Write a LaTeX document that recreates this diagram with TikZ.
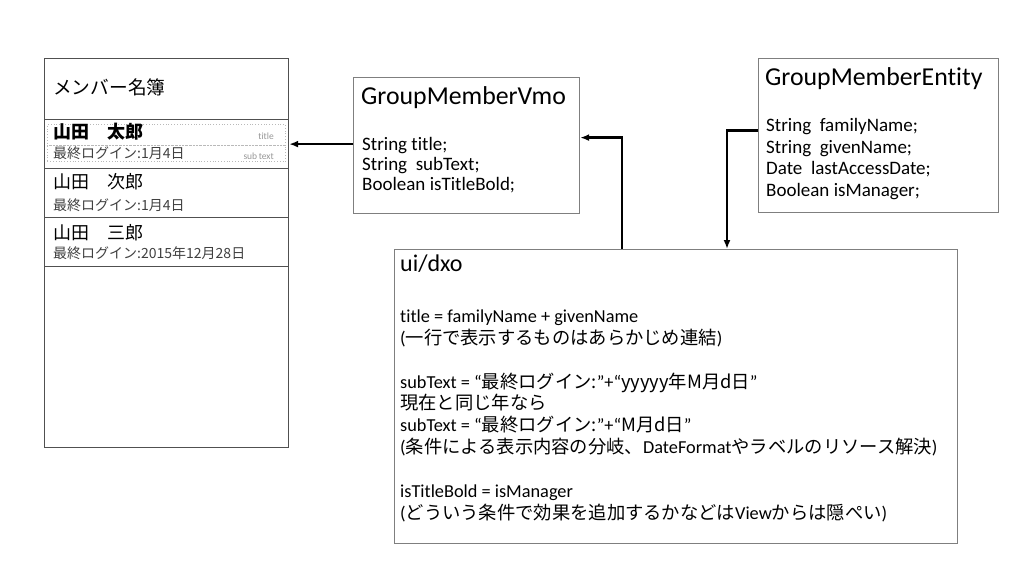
\documentclass[tikz,border=0pt]{standalone}
\usepackage{fontspec}
\setmainfont[Ligatures=NoCommon]{Carlito}
\newfontfamily\jp{Noto Sans CJK JP}
\usetikzlibrary{arrows.meta}
\definecolor{boxline}{RGB}{127,127,127}
\definecolor{listline}{RGB}{80,80,80}
\definecolor{subgray}{RGB}{64,64,64}
\definecolor{labelgray}{RGB}{150,150,150}
\definecolor{dotgray}{RGB}{185,185,185}
\begin{document}
\begin{tikzpicture}[x=1pt,y=-1pt,
  frame/.style={draw=boxline,line width=1.2pt,anchor=north west,inner sep=0pt},
  txt/.style={anchor=west,inner sep=0pt,text height=0.85em,text depth=0.1em},
  link/.style={line width=2.6pt,-{Latex[length=9pt,width=7pt]}}]
  \useasboundingbox (0,0) rectangle (1024,576);
  % member list screen
  \node[frame,draw=listline,minimum width=244pt,minimum height=389pt] (list) at (44,58) {};
  \node[frame,draw=listline,minimum width=244pt,minimum height=49pt] (row1) at (44,119) {};
  \node[frame,draw=listline,minimum width=244pt,minimum height=49pt] (row2) at (44,168) {};
  \node[frame,draw=listline,minimum width=244pt,minimum height=49pt] (row3) at (44,217) {};
  \node[draw=dotgray,dotted,line width=0.8pt,anchor=north west,inner sep=0pt,minimum width=238pt,minimum height=21pt] (titlebox) at (47,124) {};
  \node[draw=dotgray,dotted,line width=0.8pt,anchor=north west,inner sep=0pt,minimum width=238pt,minimum height=16pt] (subbox) at (47,145) {};
  \node[txt,font=\jp\fontsize{18.7}{22}\selectfont] (listhead) at (53,91) {メンバー名簿};
  \node[txt,font=\jp\bfseries\fontsize{18}{21}\selectfont] (name1) at (53,135) {山田　太郎};
  \node[txt,font=\jp\fontsize{18}{21}\selectfont] (name2) at (53,185) {山田　次郎};
  \node[txt,font=\jp\fontsize{18}{21}\selectfont] (name3) at (53,236) {山田　三郎};
  \node[txt,font=\jp\fontsize{14}{16}\selectfont,text=subgray] (sub1) at (53,155) {最終ログイン:1月4日};
  \node[txt,font=\jp\fontsize{14}{16}\selectfont,text=subgray] (sub2) at (53,207) {最終ログイン:1月4日};
  \node[txt,font=\jp\fontsize{14}{16}\selectfont,text=subgray] (sub3) at (53,255) {最終ログイン:2015年12月28日};
  \node[txt,anchor=east,font=\fontsize{9.5}{11}\selectfont,text=labelgray] (titlelabel) at (274,136) {title};
  \node[txt,anchor=east,font=\fontsize{9.5}{11}\selectfont,text=labelgray] (sublabel) at (274,156) {sub\,text};
  % view model
  \node[frame,minimum width=226pt,minimum height=136pt] (vmo) at (353,77) {};
  \node[txt,font=\fontsize{25.8}{30}\selectfont] (vmoname) at (361,101) {GroupMemberVmo};
  \foreach \y/\t [count=\i] in {147/{String title;},167/{String~ subText;},187/{Boolean isTitleBold;}}
    \node[txt,font=\fontsize{19}{21}\selectfont] (vmof\i) at (362,\y) {\t};
  % entity
  \node[frame,minimum width=240pt,minimum height=154pt] (entity) at (758,58) {};
  \node[txt,font=\fontsize{25.8}{30}\selectfont] (entityname) at (765,82) {GroupMemberEntity};
  \foreach \y/\t [count=\i] in {128/{String~ familyName;},150/{String~ givenName;},171/{Date~ lastAccessDate;},193/{Boolean isManager;}}
    \node[txt,font=\fontsize{19}{21}\selectfont] (entityf\i) at (766,\y) {\t};
  % dxo
  \node[frame,minimum width=563pt,minimum height=294pt] (dxo) at (394,249) {};
  \node[txt,font=\fontsize{24}{28}\selectfont] (dxoname) at (400,268) {ui/dxo};
  \foreach \y/\t [count=\i] in {
      319/{title = familyName + givenName},
      341/{({\jp 一行で表示するものはあらかじめ連結})},
      385/{subText = “{\jp 最終ログイン:}”+“{\jp yyyyy年M月d日}”},
      406/{{\jp 現在と同じ年なら}},
      428/{subText = “{\jp 最終ログイン:}”+“{\jp M月d日}”},
      450/{({\jp 条件による表示内容の分岐、}DateFormat{\jp やラベルのリソース解決})},
      494/{isTitleBold = isManager},
      516/{({\jp どういう条件で効果を追加するかなどは}View{\jp からは隠ぺい})}}
    \node[txt,font=\fontsize{18.3}{22}\selectfont] (dxol\i) at (400,\y) {\t};
  % connectors
  \draw[link] (vmo.west |- row1.east) -- (row1.east);
  \draw[link] ([xshift=228pt]dxo.north west) |- ([yshift=8pt]vmo.east);
  \draw[link] ([yshift=5pt]entity.west) -| ([xshift=333pt]dxo.north west);
\end{tikzpicture}
\end{document}
